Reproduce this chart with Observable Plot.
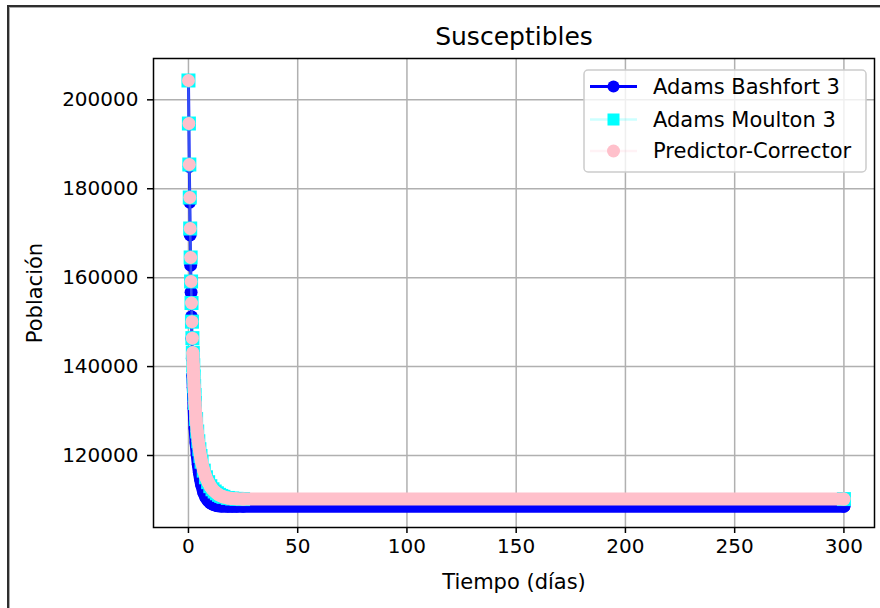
<!DOCTYPE html>
<html>
<head>
<meta charset="utf-8">
<script src="https://cdn.jsdelivr.net/npm/d3@7"></script>
<script src="https://cdn.jsdelivr.net/npm/@observablehq/plot@0.6"></script>
<style>
  html, body { margin: 0; padding: 0; background: white; }
  #wrap { position: relative; width: 880px; height: 608px; overflow: hidden; }
  #border { position: absolute; left: 7px; top: 5px; width: 1000px; height: 800px;
            border-left: 2px solid #2e2e2e; border-top: 2px solid #2e2e2e;
            box-shadow: inset 1px 1px 0 #aaaaaa; pointer-events: none; }
</style>
</head>
<body>
<div id="wrap"><div id="chart"></div><div id="border"></div></div>
<script>
// ---- data ----
const days = [0,0.2,0.4,0.6,0.8,1,1.2,1.4,1.6,1.8,2,2.2,2.4,2.6,2.8,3,3.5,4,4.5,5,5.5,6,7,8,9,10,11,12,13,14,15,16,18,20,22,25,50,100,150,200,250,300];
const adamsBashforth3 = [204350,194500,185000,177000,169600,162800,156700,151200,146300,141900,138000,135300,132900,130600,128300,126200,122800,120200,118000,116200,114700,113500,111700,110600,109900,109400,109100,108900,108750,108680,108640,108620,108600,108600,108600,108600,108600,108600,108600,108600,108600,108600];
const adamsMoulton3 = [204350,194670,185450,178030,171060,164540,159140,154300,150100,146400,143100,140300,137800,135600,133600,131800,128200,125400,123200,121400,119900,118600,116600,115100,114000,113100,112400,111900,111500,111150,110900,110700,110450,110320,110250,110200,110200,110200,110200,110200,110200,110200];
const predictorCorrector = [204350,194670,185450,178030,171060,164540,159140,154300,150100,146400,143100,140300,137800,135600,133600,131800,128200,125400,123200,121400,119900,118600,116600,115100,114000,113100,112400,111900,111500,111150,110900,110700,110450,110320,110250,110200,110200,110200,110200,110200,110200,110200];
const seriesNames = ["Adams Bashfort 3", "Adams Moulton 3", "Predictor-Corrector"];
const xTicks = [0,50,100,150,200,250,300];
const yTicks = [120000,140000,160000,180000,200000];
const titleText = "Susceptibles";
const xLabel = "Tiempo (días)";
const yLabel = "Población";

const rows = arr => days.map((t, i) => ({t, v: arr[i]}));
const ab = rows(adamsBashforth3);
const am = rows(adamsMoulton3);
const pc = rows(predictorCorrector);
const dense = d => d.t >= 2;
const lastDay = days[days.length - 1];
const shown = d => d.t <= 25 || d.t === lastDay;

const FONT = "DejaVu Sans";

const svg = Plot.plot({
  width: 880, height: 608,
  marginLeft: 153, marginRight: 6, marginTop: 58, marginBottom: 81,
  style: {fontFamily: FONT, fontSize: "20px", background: "white", color: "black"},
  x: {domain: [-16, 314]},
  y: {domain: [103806, 209295]},
  marks: [
    Plot.gridX(xTicks, {stroke: "#b0b0b0", strokeOpacity: 1, strokeWidth: 1.5}),
    Plot.gridY(yTicks, {stroke: "#b0b0b0", strokeOpacity: 1, strokeWidth: 1.5}),
    // Adams Bashforth 3
    Plot.line(ab, {x: "t", y: "v", stroke: "blue", strokeWidth: 3}),
    Plot.line(ab.filter(dense), {x: "t", y: "v", stroke: "blue", strokeWidth: 13, strokeLinecap: "round", strokeLinejoin: "round"}),
    Plot.dot(ab.filter(shown), {x: "t", y: "v", r: 6.5, fill: "blue"}),
    // Adams Moulton 3
    Plot.line(am, {x: "t", y: "v", stroke: "cyan", strokeOpacity: 0.2, strokeWidth: 2.5}),
    Plot.line(am.filter(dense), {x: "t", y: "v", stroke: "cyan", strokeWidth: 12, strokeLinecap: "square", strokeLinejoin: "round"}),
    Plot.dot(am.filter(shown), {x: "t", y: "v", r: 7.9, symbol: "square", fill: "cyan"}),
    // Predictor-Corrector
    Plot.line(pc, {x: "t", y: "v", stroke: "pink", strokeOpacity: 0.2, strokeWidth: 2.5}),
    Plot.line(pc.filter(dense), {x: "t", y: "v", stroke: "pink", strokeWidth: 13, strokeLinecap: "round", strokeLinejoin: "round"}),
    Plot.dot(pc.filter(shown), {x: "t", y: "v", r: 6.5, fill: "pink"}),
    Plot.frame({stroke: "black", strokeWidth: 1.5}),
    Plot.axisX(xTicks, {tickSize: 6, tickPadding: 5, label: null, fontSize: 20, strokeWidth: 1.5}),
    Plot.axisY(yTicks, {tickSize: 6, tickPadding: 9, label: null, fontSize: 20, strokeWidth: 1.5, tickFormat: d3.format("d")}),
    Plot.text([titleText], {frameAnchor: "top", lineAnchor: "middle", dy: -22, fontSize: 25}),
    Plot.text([xLabel], {frameAnchor: "bottom", lineAnchor: "middle", dy: 55, fontSize: 21}),
    Plot.text([yLabel], {frameAnchor: "left", lineAnchor: "middle", textAnchor: "middle", dx: -118, rotate: -90, fontSize: 21})
  ]
});

// ---- legend ----
const lg = d3.select(svg).append("g").attr("font-family", FONT).attr("font-size", 21).attr("text-anchor", "start");
lg.append("rect").attr("x", 584).attr("y", 70).attr("width", 282).attr("height", 102).attr("rx", 4)
  .attr("fill", "white").attr("fill-opacity", 0.8).attr("stroke", "#cccccc").attr("stroke-width", 1.5);
const rowY = [86.5, 119.5, 151];
const styles = [
  {stroke: "blue", so: 1, sw: 3, fill: "blue", shape: "circle", r: 6},
  {stroke: "cyan", so: 0.2, sw: 2.5, fill: "cyan", shape: "square", r: 6},
  {stroke: "pink", so: 0.2, sw: 2.5, fill: "pink", shape: "circle", r: 6.5}
];
seriesNames.forEach((name, i) => {
  const y = rowY[i], s = styles[i];
  lg.append("line").attr("x1", 590).attr("x2", 637).attr("y1", y).attr("y2", y)
    .attr("stroke", s.stroke).attr("stroke-opacity", s.so).attr("stroke-width", s.sw);
  if (s.shape === "circle") {
    lg.append("circle").attr("cx", 613.5).attr("cy", y).attr("r", s.r).attr("fill", s.fill);
  } else {
    lg.append("rect").attr("x", 613.5 - s.r).attr("y", y - s.r).attr("width", 2 * s.r).attr("height", 2 * s.r).attr("fill", s.fill);
  }
  lg.append("text").attr("x", 653).attr("y", y).attr("dy", "0.35em").attr("text-anchor", "start").attr("fill", "black").text(name);
});

document.getElementById("chart").appendChild(svg);
</script>
</body>
</html>
